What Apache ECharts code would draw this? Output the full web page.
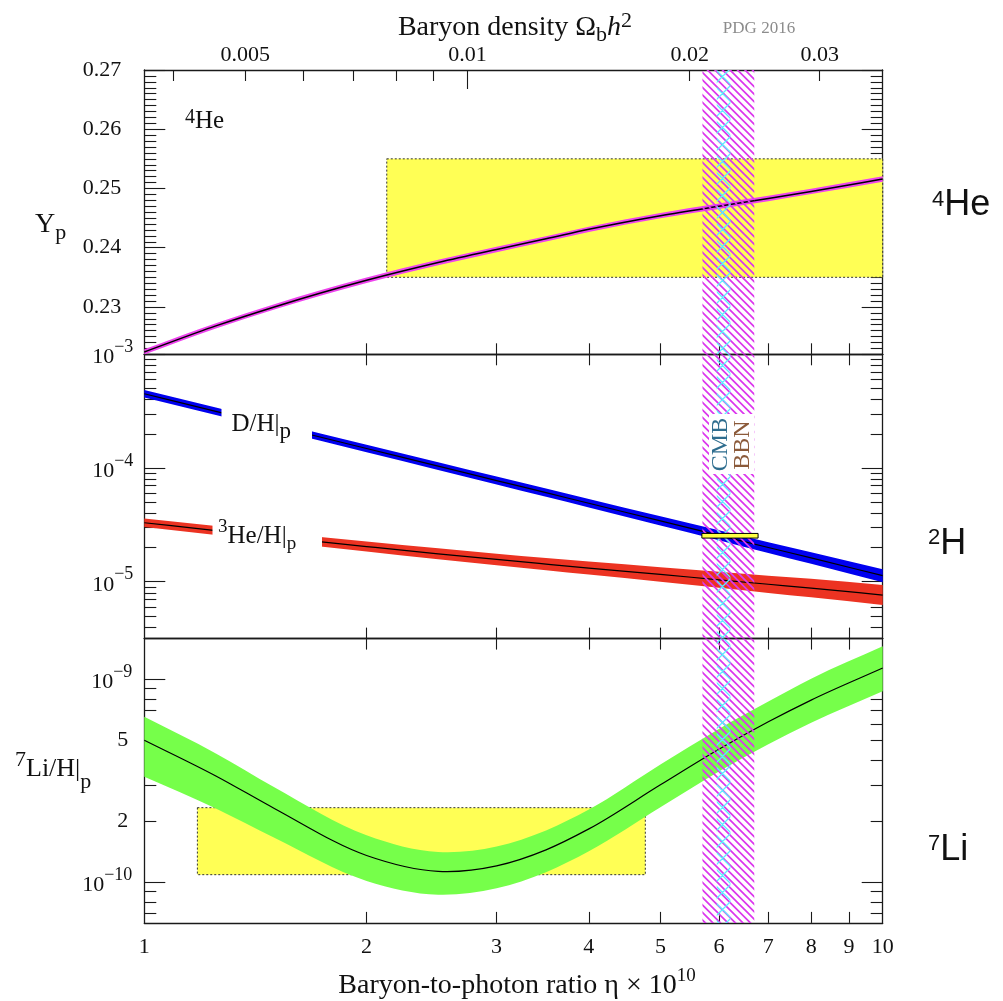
<!DOCTYPE html>
<html>
<head>
<meta charset="utf-8">
<script src="https://cdn.jsdelivr.net/npm/echarts@6.0.0/dist/echarts.min.js"></script>
<style>
html,body{margin:0;padding:0;background:#fff;}
#chart{width:1003px;height:1001px;}
</style>
</head>
<body>
<div id="chart"></div>
<script>
// ---------------- data ----------------
const eta = [1, 1.25, 1.5, 2, 2.5, 3, 3.5, 4, 5, 6, 7, 8, 10];

const ypCenter = [0.2224, 0.2268, 0.2300, 0.2345, 0.2375, 0.2397, 0.2415, 0.2431, 0.2454, 0.2470, 0.2483, 0.2495, 0.2516];
const ypLow    = [0.22195, 0.22635, 0.22955, 0.23405, 0.23705, 0.23925, 0.24105, 0.24265, 0.24495, 0.24655, 0.24785, 0.24905, 0.25115];
const ypHigh   = [0.22285, 0.22725, 0.23045, 0.23495, 0.23795, 0.24015, 0.24195, 0.24355, 0.24585, 0.24745, 0.24875, 0.24995, 0.25205];

const dhCenter = [4.50e-4, 3.15e-4, 2.355e-4, 1.486e-4, 1.04e-4, 7.76e-5, 6.07e-5, 4.90e-5, 3.43e-5, 2.56e-5, 2.00e-5, 1.62e-5, 1.13e-5];
const dhHigh   = [4.856e-4, 3.399e-4, 2.541e-4, 1.603e-4, 1.124e-4, 8.41e-5, 6.59e-5, 5.34e-5, 3.76e-5, 2.83e-5, 2.23e-5, 1.82e-5, 1.29e-5];
const dhLow    = [4.17e-4, 2.92e-4, 2.183e-4, 1.378e-4, 9.62e-5, 7.16e-5, 5.58e-5, 4.50e-5, 3.13e-5, 2.32e-5, 1.79e-5, 1.44e-5, 9.91e-6];

const he3Center = [3.30e-5, 2.82e-5, 2.48e-5, 2.04e-5, 1.76e-5, 1.57e-5, 1.43e-5, 1.32e-5, 1.16e-5, 1.04e-5, 9.5e-6, 8.8e-6, 7.64e-6];
const he3High   = [3.59e-5, 3.085e-5, 2.726e-5, 2.258e-5, 1.966e-5, 1.766e-5, 1.619e-5, 1.505e-5, 1.344e-5, 1.222e-5, 1.131e-5, 1.06e-5, 9.36e-6];
const he3Low    = [3.03e-5, 2.577e-5, 2.257e-5, 1.844e-5, 1.575e-5, 1.396e-5, 1.263e-5, 1.158e-5, 1.001e-5, 8.85e-6, 7.97e-6, 7.30e-6, 6.24e-6];

const li7Center = [5.01e-10, 3.34e-10, 2.31e-10, 1.355e-10, 1.132e-10, 1.205e-10, 1.445e-10, 1.832e-10, 3.02e-10, 4.52e-10, 6.17e-10, 7.89e-10, 1.135e-9];
const li7High   = [6.53e-10, 4.31e-10, 2.94e-10, 1.706e-10, 1.41e-10, 1.50e-10, 1.80e-10, 2.28e-10, 3.80e-10, 5.69e-10, 7.76e-10, 1.005e-9, 1.452e-9];
const li7Low    = [3.31e-10, 2.31e-10, 1.656e-10, 1.016e-10, 8.69e-11, 9.35e-11, 1.122e-10, 1.422e-10, 2.34e-10, 3.51e-10, 4.79e-10, 6.10e-10, 8.73e-10];

// observational boxes [etaMin, etaMax, yMin, yMax]
const heBox = [2.13, 10, 0.235, 0.255];
const liBox = [1.18, 4.77, 1.09e-10, 2.33e-10];
const dhBar = [5.69, 6.78, 2.42e-5, 2.66e-5];
// vertical bands [etaMin, etaMax]
const bbnBand = [5.70, 6.70];
const cmbBand = [5.96, 6.22];

// ticks and tick labels
const etaTickValues = [2, 3, 4, 5, 6, 7, 8, 9];
const etaLabelValues = [1, 2, 3, 4, 5, 6, 7, 8, 9, 10];
const omegaLabelValues = [0.005, 0.01, 0.02, 0.03];
const omegaMinorTicks = [0.004, 0.005, 0.006, 0.007, 0.008, 0.009, 0.02, 0.03];
const omegaMajorTicks = [0.01];
const ETA_PER_OMEGA = 273.9;
const ypLabelValues = [0.23, 0.24, 0.25, 0.26, 0.27];
const ypMajorTicks = [0.23, 0.24, 0.25, 0.26, 0.27];
const ypMinorTicks = [];
for (let k = 223; k < 270; k++) { if (k % 10 !== 0) ypMinorTicks.push(k / 1000); }
const midMajorTicks = [1e-5, 1e-4, 1e-3];
const midMinorTicks = [4e-6, 5e-6, 6e-6, 7e-6, 8e-6, 9e-6, 2e-5, 3e-5, 4e-5, 5e-5, 6e-5, 7e-5, 8e-5, 9e-5, 2e-4, 3e-4, 4e-4, 5e-4, 6e-4, 7e-4, 8e-4, 9e-4];
const liMajorTicks = [1e-10, 1e-9];
const liMinorTicks = [7e-11, 8e-11, 9e-11, 2e-10, 3e-10, 4e-10, 5e-10, 6e-10, 7e-10, 8e-10, 9e-10];
const liLabelValues = [1e-10, 2e-10, 5e-10, 1e-9];

// ---------------- layout / style ----------------
const FONT = '"Liberation Serif", "Times New Roman", serif';
const SANS = '"Liberation Sans", Arial, sans-serif';
const AXC = '#1a1a1a';
const TXT = '#111';
const gridTop = [70, 354.3, 638.6];
const GH = 284.3, GL = 144.3, GW = 738.4;
const yRange = [[0.222, 0.27], [Math.pow(10, -5.5), 1e-3], [Math.pow(10, -10.2), Math.pow(10, -8.8)]];

function makeHatch(size, color, width, dirs, n) {
  const c = document.createElement('canvas');
  c.width = size; c.height = size;
  const ctx = c.getContext('2d');
  ctx.strokeStyle = color; ctx.lineWidth = width;
  ctx.beginPath();
  for (const d of dirs) {
    for (let k = -2 * n; k <= 2 * n; k++) {
      const o = k * size / n;
      if (d === 'back') { ctx.moveTo(o - 2, -2); ctx.lineTo(o + size + 2, size + 2); }
      else { ctx.moveTo(o - 2, size + 2); ctx.lineTo(o + size + 2, -2); }
    }
  }
  ctx.stroke();
  return c;
}
const magentaHatch = { image: makeHatch(15, '#dc36ee', 1.7, ['back'], 2), repeat: 'repeat' };
const cyanHatch = { image: makeHatch(17, '#5cecff', 1.3, ['back', 'fwd'], 1), repeat: 'repeat' };

const ls = w => ({ color: AXC, width: w });

function etaAxis(g, pos, extra) {
  return Object.assign({
    type: 'log', logBase: 10, gridIndex: g, position: pos, min: 1, max: 10,
    axisLine: { show: true, onZero: false, lineStyle: ls(1.3) },
    axisTick: { show: true, inside: true, length: 11, customValues: etaTickValues, lineStyle: ls(1.1) },
    axisLabel: { show: false }, splitLine: { show: false }, minorTick: { show: false }, axisPointer: { show: false }
  }, extra || {});
}
function omegaAxis(ticks, len, showLine, label) {
  return {
    type: 'log', logBase: 10, gridIndex: 0, position: 'top',
    min: 1 / ETA_PER_OMEGA, max: 10 / ETA_PER_OMEGA,
    axisLine: { show: showLine, onZero: false, lineStyle: ls(1.3) },
    axisTick: { show: true, inside: true, length: len, customValues: ticks, lineStyle: ls(1.1) },
    axisLabel: label || { show: false }, splitLine: { show: false }, minorTick: { show: false }
  };
}
const xAxes = [
  etaAxis(0, 'bottom'),
  omegaAxis(omegaMinorTicks, 11, true, {
    show: true, customValues: omegaLabelValues, margin: 4, fontSize: 22, fontFamily: FONT, color: TXT,
    formatter: v => String(+v.toPrecision(3))
  }),
  omegaAxis(omegaMajorTicks, 19, false),
  etaAxis(1, 'bottom'),
  etaAxis(1, 'top'),
  etaAxis(2, 'bottom', {
    axisLabel: { show: true, customValues: etaLabelValues, margin: 13, fontSize: 22, fontFamily: FONT, color: TXT,
      formatter: v => String(Math.round(v)) }
  }),
  etaAxis(2, 'top')
];
const X_DATA = [0, 3, 5];

function yAxisSet(g, type, major, minor, labelCfg) {
  const base = { type, gridIndex: g, min: yRange[g][0], max: yRange[g][1], splitLine: { show: false },
    minorTick: { show: false }, axisLabel: { show: false }, axisPointer: { show: false } };
  if (type === 'log') base.logBase = 10;
  return [
    Object.assign({}, base, { position: 'left', axisLine: { show: true, onZero: false, lineStyle: ls(1.3) },
      axisTick: { show: true, inside: true, length: 21, customValues: major, lineStyle: ls(1.1) }, axisLabel: labelCfg }),
    Object.assign({}, base, { position: 'left', axisLine: { show: false },
      axisTick: { show: true, inside: true, length: 12, customValues: minor, lineStyle: ls(1.1) } }),
    Object.assign({}, base, { position: 'right', axisLine: { show: true, onZero: false, lineStyle: ls(1.3) },
      axisTick: { show: true, inside: true, length: 21, customValues: major, lineStyle: ls(1.1) } }),
    Object.assign({}, base, { position: 'right', axisLine: { show: false },
      axisTick: { show: true, inside: true, length: 12, customValues: minor, lineStyle: ls(1.1) } })
  ];
}
const powRich = {
  b: { fontSize: 22, fontFamily: FONT, color: TXT, lineHeight: 24 },
  s: { fontSize: 18, fontFamily: FONT, color: TXT, lineHeight: 18, padding: [0, 0, 20, 0] },
  m: { fontSize: 22, fontFamily: FONT, color: TXT, lineHeight: 24, padding: [0, 4, 6, 0] }
};
function powLabel(v) {
  const e = Math.floor(Math.log10(v) + 1e-6);
  const m = Math.round(v / Math.pow(10, e));
  if (m === 1) return '{b|10}{s|\u2212' + (-e) + '}';
  return '{m|' + m + '}';
}
const yAxes = [].concat(
  yAxisSet(0, 'value', ypMajorTicks, ypMinorTicks, {
    show: true, customValues: ypLabelValues, margin: 23, fontSize: 22, fontFamily: FONT, color: TXT,
    formatter: v => v.toFixed(2)
  }),
  yAxisSet(1, 'log', midMajorTicks, midMinorTicks, {
    show: true, customValues: midMajorTicks, margin: 11, formatter: powLabel, rich: powRich, padding: [6, 0, 0, 0]
  }),
  yAxisSet(2, 'log', liMajorTicks, liMinorTicks, {
    show: true, customValues: liLabelValues, margin: 12, formatter: powLabel, rich: powRich, padding: [6, 0, 0, 0]
  })
);
const Y_DATA = [0, 4, 8];

// ---------------- series ----------------
// smooth curve through pixel points: cubic Hermite with three-point slopes, written as Bezier segments
function curveSegs(pts, withMove) {
  const n = pts.length;
  const h = [], dlt = [], m = [];
  for (let i = 0; i < n - 1; i++) {
    h.push(pts[i + 1][0] - pts[i][0]);
    dlt.push((pts[i + 1][1] - pts[i][1]) / h[i]);
  }
  for (let i = 0; i < n; i++) {
    if (i === 0) m.push(dlt[0]);
    else if (i === n - 1) m.push(dlt[n - 2]);
    else m.push((dlt[i - 1] * h[i] + dlt[i] * h[i - 1]) / (h[i - 1] + h[i]));
  }
  let d = (withMove ? 'M' : 'L') + pts[0][0] + ' ' + pts[0][1];
  for (let i = 0; i < n - 1; i++) {
    const t = h[i] / 3;
    d += ' C' + (pts[i][0] + t) + ' ' + (pts[i][1] + m[i] * t) + ' ' +
      (pts[i + 1][0] - t) + ' ' + (pts[i + 1][1] - m[i + 1] * t) + ' ' + pts[i + 1][0] + ' ' + pts[i + 1][1];
  }
  return d;
}
function bandSeries(g, lo, hi, color, z) {
  return {
    type: 'custom', xAxisIndex: X_DATA[g], yAxisIndex: Y_DATA[g], z, silent: true, clip: true,
    encode: { x: 0, y: [1, 2] }, data: eta.map((e, i) => [e, lo[i], hi[i]]),
    renderItem: (params, api) => {
      if (params.dataIndexInside !== 0) return null;
      const n = params.dataInsideLength;
      const up = [], dn = [];
      for (let i = 0; i < n; i++) {
        up.push(api.coord([api.value(0, i), api.value(2, i)]));
        dn.push(api.coord([api.value(0, i), api.value(1, i)]));
      }
      dn.reverse();
      const d = curveSegs(up, true) + ' ' + curveSegs(dn, false) + ' Z';
      return { type: 'path', shape: { pathData: d }, style: { fill: color, stroke: null } };
    }
  };
}
function centerLine(g, vals, w) {
  return {
    type: 'custom', xAxisIndex: X_DATA[g], yAxisIndex: Y_DATA[g], z: 3, silent: true, clip: true,
    encode: { x: 0, y: 1 }, data: eta.map((e, i) => [e, vals[i]]),
    renderItem: (params, api) => {
      if (params.dataIndexInside !== 0) return null;
      const pts = [];
      for (let i = 0; i < params.dataInsideLength; i++) pts.push(api.coord([api.value(0, i), api.value(1, i)]));
      return { type: 'path', shape: { pathData: curveSegs(pts, true) }, style: { fill: null, stroke: '#000', lineWidth: w } };
    }
  };
}
function rectSeries(g, rects, style, z) {
  return {
    type: 'custom', xAxisIndex: X_DATA[g], yAxisIndex: Y_DATA[g], z, silent: true, clip: true,
    encode: { x: [0, 1], y: [2, 3] }, data: rects,
    renderItem: (params, api) => {
      const p0 = api.coord([api.value(0), api.value(3)]);
      const p1 = api.coord([api.value(1), api.value(2)]);
      return { type: 'rect', shape: { x: p0[0], y: p0[1], width: p1[0] - p0[0], height: p1[1] - p0[1] }, style };
    }
  };
}
function hatchBands(g) {
  return [
    rectSeries(g, [[bbnBand[0], bbnBand[1], yRange[g][0], yRange[g][1]]], { fill: magentaHatch }, 4),
    rectSeries(g, [[cmbBand[0], cmbBand[1], yRange[g][0], yRange[g][1]]], { fill: cyanHatch }, 5)
  ];
}
const boxStyle = { fill: '#ffff55', stroke: '#333', lineWidth: 1, lineDash: [2, 2] };

const series = [
  rectSeries(0, [heBox], boxStyle, 1),
  bandSeries(0, ypLow, ypHigh, '#ee44ee', 2),
  centerLine(0, ypCenter, 1.5),
  ...hatchBands(0),
  bandSeries(1, dhLow, dhHigh, '#0000f0', 2),
  bandSeries(1, he3Low, he3High, '#ec3322', 2),
  centerLine(1, dhCenter, 1.2),
  centerLine(1, he3Center, 1.2),
  ...hatchBands(1),
  rectSeries(1, [dhBar], { fill: '#ffff44', stroke: '#000', lineWidth: 1 }, 6),
  rectSeries(2, [liBox], boxStyle, 1),
  bandSeries(2, li7Low, li7High, '#76ff4a', 2),
  centerLine(2, li7Center, 1.2),
  ...hatchBands(2)
];

// ---------------- texts ----------------
function rich(F, S, fam, color, supPad, subPad) {
  return {
    b: { fontSize: F, fontFamily: fam, fill: color, lineHeight: F + 4 },
    i: { fontSize: F, fontFamily: fam, fontStyle: 'italic', fill: color, lineHeight: F + 4 },
    sup: { fontSize: S, fontFamily: fam, fill: color, lineHeight: S, padding: [0, 0, supPad, 0] },
    sub: { fontSize: S, fontFamily: fam, fill: color, lineHeight: S, padding: [subPad, 0, 0, 0] }
  };
}
function txt(x, y, text, r, align, extra) {
  return Object.assign({ type: 'text', x, y, z: 101, silent: true,
    style: { text, align: align || 'left', verticalAlign: 'middle', rich: r } }, extra || {});
}
const graphic = [
  { type: 'rect', z: 100, silent: true, shape: { x: 221.5, y: 403, width: 90.5, height: 44 }, style: { fill: '#fff' } },
  { type: 'rect', z: 100, silent: true, shape: { x: 212.5, y: 516, width: 109.5, height: 38 }, style: { fill: '#fff' } },
  { type: 'rect', z: 100, silent: true, shape: { x: 709, y: 414, width: 45, height: 60 }, style: { fill: '#fff' } },
  txt(515, 27.6, '{b|Baryon density \u03A9}{sub|b}{i|h}{sup|2}', rich(28, 22, FONT, TXT, 12, 15), 'center'),
  txt(759, 29, '{g|PDG 2016}', { g: { fontSize: 17, fontFamily: FONT, fill: '#8c8c8c' } }, 'center'),
  txt(517, 985.6, '{b|Baryon-to-photon ratio \u03B7 \u00D7 10}{sup|10}', rich(28, 19, FONT, TXT, 19, 0), 'center'),
  txt(35, 224.6, '{b|Y}{sub|p}', rich(28, 22, FONT, TXT, 0, 18)),
  txt(15, 768.9, '{sup|7}{b|Li/H|}{sub|p}', rich(26, 22, FONT, TXT, 18, 26)),
  txt(185, 121.8, '{sup|4}{b|He}', rich(25, 20, FONT, TXT, 9, 0)),
  txt(231.5, 424.8, '{b|D/H|}{sub|p}', rich(25, 23, FONT, TXT, 0, 15)),
  txt(218, 536.5, '{sup|3}{b|He/H|}{sub|p}', rich(25, 19, FONT, TXT, 18, 15)),
  txt(720.3, 444.5, '{c|CMB}', { c: { fontSize: 24, fontFamily: FONT, fill: '#2e6d8e' } }, 'center', { rotation: Math.PI / 2 }),
  txt(743, 445, '{c|BBN}', { c: { fontSize: 24, fontFamily: FONT, fill: '#8b5a3a' } }, 'center', { rotation: Math.PI / 2 }),
  txt(932, 205.5, '{sup|4}{b|He}', rich(36, 22, SANS, TXT, 12, 0)),
  txt(928, 544, '{sup|2}{b|H}', rich(36, 22, SANS, TXT, 12, 0)),
  txt(928, 850, '{sup|7}{b|Li}', rich(36, 22, SANS, TXT, 12, 0))
];

const option = {
  animation: false,
  backgroundColor: '#fff',
  grid: gridTop.map(t => ({ left: GL, top: t, width: GW, height: GH, containLabel: false, outerBoundsMode: 'none' })),
  xAxis: xAxes,
  yAxis: yAxes,
  series,
  graphic
};
const chart = echarts.init(document.getElementById('chart'), null, { renderer: 'canvas' });
chart.setOption(option);
</script>
</body>
</html>
